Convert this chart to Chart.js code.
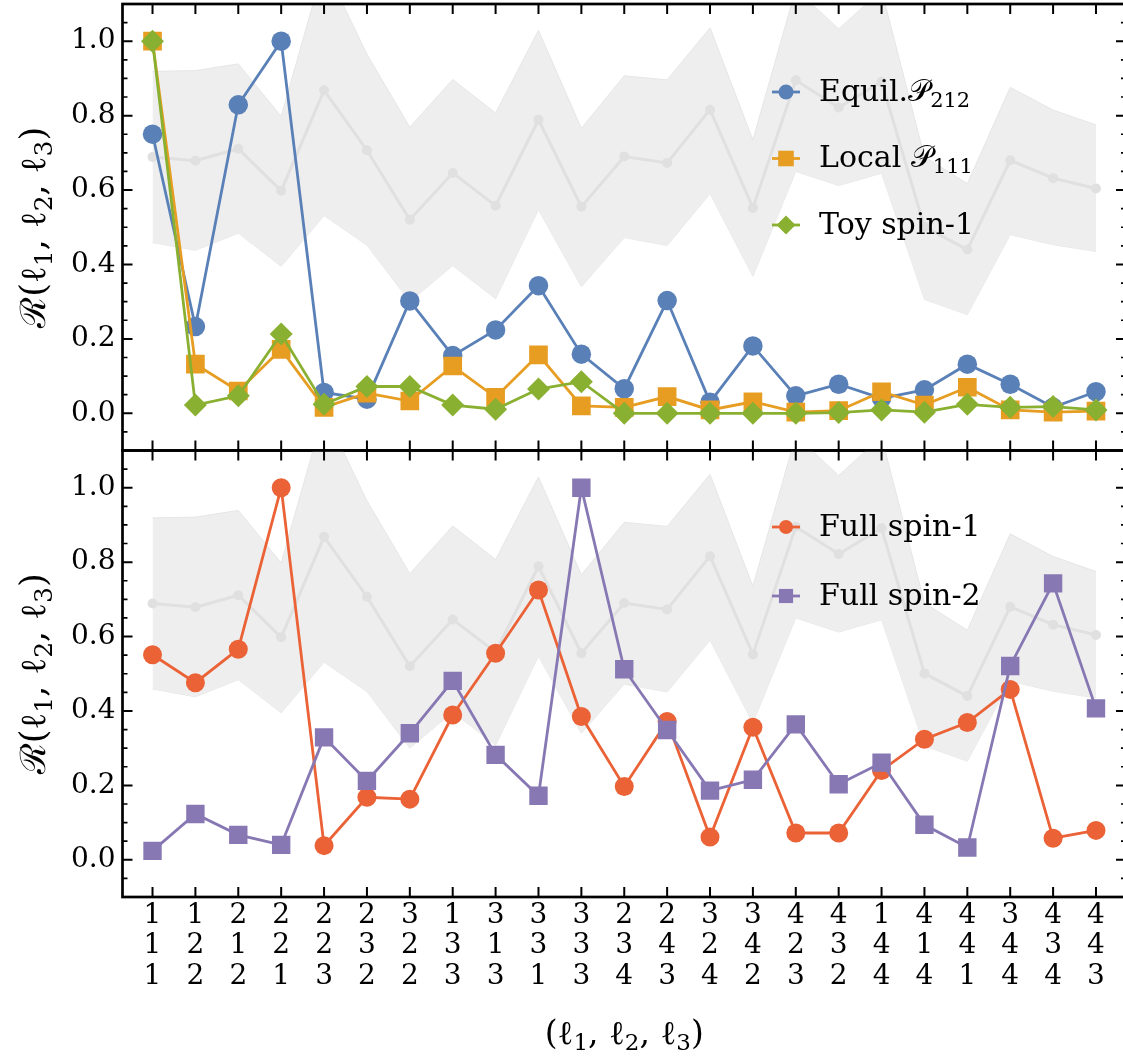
<!DOCTYPE html>
<html><head><meta charset="utf-8">
<script src="https://cdn.jsdelivr.net/npm/chart.js@4.4.0/dist/chart.umd.min.js"></script>
<style>
html,body{margin:0;padding:0;background:#fff;overflow:hidden;}
#wrap{position:relative;width:1123px;height:1059px;overflow:hidden;background:#fff;}
#topc{position:absolute;left:0;top:0;width:1128px;height:452px;}
#botc{position:absolute;left:0;top:446px;width:1128px;height:613px;}
</style></head><body>
<div id="wrap">
<canvas id="topc" width="1128" height="452"></canvas>
<canvas id="botc" width="1128" height="613"></canvas>
</div>
<script>
// ---- categories (l1, l2, l3) ----
const labelsL1 = ['1','1','2','2','2','2','3','1','3','3','3','2','2','3','3','4','4','1','4','4','3','4','4'];
const labelsL2 = ['1','2','1','2','2','3','2','3','1','3','3','3','4','2','4','2','3','4','1','4','4','3','4'];
const labelsL3 = ['1','2','2','1','3','2','2','3','3','1','3','4','3','4','2','3','2','4','4','1','4','4','3'];
const xTickValues = labelsL1.map((_, i) => i);
const yTickValues = [0.0, 0.2, 0.4, 0.6, 0.8, 1.0];
const yAxisTitle = 'ℛ(ℓ_{1}, ℓ_{2}, ℓ_{3})';
const xAxisTitle = '(ℓ_{1}, ℓ_{2}, ℓ_{3})';

// ---- grey reference band ----
const bandMean  = [0.689,0.679,0.711,0.598,0.868,0.707,0.520,0.646,0.558,0.789,0.555,0.690,0.673,0.816,0.552,0.895,0.822,0.891,0.501,0.440,0.680,0.632,0.604];
const bandUpper = [0.919,0.921,0.939,0.798,1.205,0.965,0.769,0.897,0.807,1.029,0.766,0.907,0.896,1.036,0.735,1.140,1.033,1.137,0.690,0.617,0.876,0.815,0.775];
const bandLower = [0.459,0.438,0.484,0.395,0.531,0.452,0.300,0.397,0.308,0.547,0.340,0.472,0.451,0.590,0.368,0.650,0.612,0.645,0.306,0.265,0.480,0.453,0.435];

// ---- top panel series ----
const equilP212 = [0.750,0.233,0.829,1.000,0.056,0.038,0.302,0.155,0.224,0.343,0.159,0.066,0.303,0.030,0.181,0.047,0.078,0.040,0.063,0.132,0.078,0.016,0.058];
const localP111 = [1.000,0.132,0.060,0.172,0.016,0.054,0.033,0.127,0.043,0.157,0.020,0.016,0.045,0.009,0.031,0.003,0.007,0.058,0.022,0.070,0.009,0.003,0.006];
const toySpin1  = [1.000,0.022,0.047,0.213,0.024,0.072,0.072,0.022,0.011,0.065,0.085,0.000,0.000,0.000,0.000,0.000,0.002,0.009,0.003,0.024,0.016,0.018,0.009];

// ---- bottom panel series ----
const fullSpin1 = [0.551,0.476,0.566,1.000,0.038,0.168,0.163,0.389,0.555,0.725,0.385,0.197,0.372,0.061,0.356,0.072,0.072,0.240,0.324,0.369,0.458,0.058,0.079];
const fullSpin2 = [0.024,0.123,0.067,0.040,0.329,0.212,0.340,0.481,0.282,0.172,1.000,0.512,0.349,0.186,0.215,0.364,0.203,0.261,0.094,0.033,0.521,0.743,0.407];

const SERIF = '"DejaVu Serif", "Liberation Serif", serif';
const pts = arr => arr.map((v, i) => ({x: i, y: v}));

function bandDatasets() {
  return [
    {label: '_mean', data: pts(bandMean), borderColor: '#e0e0e0', backgroundColor: '#e0e0e0',
     borderWidth: 3, pointRadius: 5, pointBorderWidth: 0, order: 8, legendSkip: true},
    {label: '_upper', data: pts(bandUpper), borderColor: '#e6e6e6', backgroundColor: '#eeeeee',
     borderWidth: 1, pointRadius: 0, fill: '+1', order: 9, legendSkip: true},
    {label: '_lower', data: pts(bandLower), borderColor: '#e6e6e6', borderWidth: 1,
     pointRadius: 0, fill: false, order: 10, legendSkip: true}
  ];
}

function series(label, arr, color, style, r, lr, order) {
  return {label, data: pts(arr), borderColor: color, backgroundColor: color, borderWidth: 2.8,
    pointStyle: style, pointRadius: r, pointHoverRadius: r, pointBorderWidth: 0,
    legendRadius: lr, order};
}

// rich text with "_{...}" subscripts
function richWidth(ctx, text, size) {
  const parts = text.split(/(_\{[^}]*\})/);
  let w = 0;
  parts.forEach(p => {
    if (!p) return;
    if (p.startsWith('_{')) { ctx.font = `${Math.round(size * 0.7)}px ${SERIF}`; w += ctx.measureText(p.slice(2, -1)).width; }
    else { ctx.font = `${size}px ${SERIF}`; w += ctx.measureText(p).width; }
  });
  return w;
}
function drawRich(ctx, text, x, y, size) {
  const parts = text.split(/(_\{[^}]*\})/);
  let cx = x;
  parts.forEach(p => {
    if (!p) return;
    if (p.startsWith('_{')) {
      const s = p.slice(2, -1);
      ctx.font = `${Math.round(size * 0.7)}px ${SERIF}`;
      ctx.fillText(s, cx, y + size * 0.28);
      cx += ctx.measureText(s).width;
    } else {
      ctx.font = `${size}px ${SERIF}`;
      ctx.fillText(p, cx, y);
      cx += ctx.measureText(p).width;
    }
  });
}

const MAJ = 10, MIN = 5;
const framePlugin = {
  id: 'frameTicks',
  afterDatasetsDraw(chart, args, opts) {
    const {ctx, chartArea: a, scales: {x, y}} = chart;
    ctx.save();
    ctx.strokeStyle = '#000';
    ctx.lineWidth = 2;
    ctx.beginPath();
    xTickValues.forEach(v => {
      const px = x.getPixelForValue(v);
      ctx.moveTo(px, a.top); ctx.lineTo(px, a.top + MAJ);
      ctx.moveTo(px, a.bottom); ctx.lineTo(px, a.bottom - MAJ);
    });
    yTickValues.forEach(v => {
      const py = y.getPixelForValue(v);
      ctx.moveTo(a.left, py); ctx.lineTo(a.left + MAJ, py);
      ctx.moveTo(a.right, py); ctx.lineTo(a.right - MAJ, py);
    });
    ctx.stroke();
    ctx.lineWidth = 1.7;
    ctx.beginPath();
    for (let k = -2; k <= 22; k++) {
      const v = k * 0.05;
      if (k % 4 === 0) continue;
      const py = y.getPixelForValue(v);
      if (py < a.top + 1 || py > a.bottom - 1) continue;
      ctx.moveTo(a.left, py); ctx.lineTo(a.left + MIN, py);
      ctx.moveTo(a.right, py); ctx.lineTo(a.right - MIN, py);
    }
    ctx.stroke();
    ctx.lineWidth = 2.7;
    ctx.strokeRect(a.left, a.top, a.width, a.height);

    // axis titles
    ctx.fillStyle = '#000';
    ctx.textBaseline = 'middle';
    ctx.textAlign = 'left';
    const tsy = 35;
    const wy = richWidth(ctx, yAxisTitle, tsy);
    ctx.save();
    ctx.translate(36, (a.top + a.bottom) / 2);
    ctx.rotate(-Math.PI / 2);
    drawRich(ctx, yAxisTitle, -wy / 2, 0, tsy);
    ctx.restore();
    if (opts.xTitleY) {
      const tsx = 33;
      const wx = richWidth(ctx, xAxisTitle, tsx);
      drawRich(ctx, xAxisTitle, (a.left + a.right) / 2 - wx / 2, opts.xTitleY, tsx);
    }
    ctx.restore();
  }
};

const legendPlugin = {
  id: 'lineLegend',
  afterDraw(chart, args, opts) {
    const {ctx} = chart;
    const items = chart.data.datasets.filter(d => !d.legendSkip)
      .sort((a, b) => a.legendIndex - b.legendIndex);
    ctx.save();
    items.forEach((d, i) => {
      const yy = opts.y0 + i * opts.dy;
      ctx.strokeStyle = d.borderColor;
      ctx.lineWidth = 2.8;
      ctx.beginPath();
      ctx.moveTo(opts.x, yy); ctx.lineTo(opts.x + 28, yy);
      ctx.stroke();
      ctx.fillStyle = d.backgroundColor;
      Chart.helpers.drawPoint(ctx, {pointStyle: d.pointStyle, radius: d.legendRadius, rotation: 0, borderWidth: 0}, opts.x + 14, yy);
      ctx.fillStyle = '#000';
      ctx.textBaseline = 'middle';
      ctx.textAlign = 'left';
      drawRich(ctx, d.richLabel, opts.x + 47, yy + 1, 30);
    });
    ctx.restore();
  }
};

function zeroPad(s) { s.paddingLeft = 0; s.paddingRight = 0; s.paddingTop = 0; s.paddingBottom = 0; }

function makeOptions(showX, legendPos, frameOpts) {
  return {
    responsive: false, animation: false, devicePixelRatio: 1,
    layout: {autoPadding: false,
      padding: showX ? {left: 0, right: 2, top: 4.5, bottom: 0} : {left: 0, right: 2, top: 4, bottom: 1.5}},
    plugins: {legend: {display: false}, tooltip: {enabled: false}, lineLegend: legendPos, frameTicks: frameOpts},
    scales: {
      x: {
        type: 'linear', min: -0.7, max: 22.7, display: showX,
        grid: {display: false, drawTicks: false}, border: {display: false},
        afterBuildTicks: s => { s.ticks = xTickValues.map(v => ({value: v})); },
        afterFit: s => { if (showX) s.height = 162; zeroPad(s); },
        ticks: {autoSkip: false, maxRotation: 0, minRotation: 0, padding: 3, color: '#000',
          font: {family: SERIF, size: 28, lineHeight: 1.09},
          callback: v => [labelsL1[v], labelsL2[v], labelsL3[v]]},
        title: {display: false}
      },
      y: {
        type: 'linear', min: -0.1, max: 1.1,
        grid: {display: false, drawTicks: false}, border: {display: false},
        afterBuildTicks: s => { s.ticks = yTickValues.map(v => ({value: v})); },
        afterFit: s => { s.width = 122.5; zeroPad(s); },
        ticks: {padding: 7, color: '#000', font: {family: SERIF, size: 28},
          callback: v => Number(v).toFixed(1)},
        title: {display: false}
      }
    }
  };
}

const topDatasets = [
  Object.assign(series('Equil. P212', equilP212, '#5a80b8', 'circle', 9.75, 7.5, 3), {richLabel: 'Equil.𝒫_{212}', legendIndex: 0}),
  Object.assign(series('Local P111', localP111, '#e69d22', 'rect', 13.2, 11, 2), {richLabel: 'Local 𝒫_{111}', legendIndex: 1}),
  Object.assign(series('Toy spin-1', toySpin1, '#8ab032', 'rectRot', 11.5, 9.5, 1), {richLabel: 'Toy spin-1', legendIndex: 2}),
  ...bandDatasets()
];
const botDatasets = [
  Object.assign(series('Full spin-1', fullSpin1, '#ea6236', 'circle', 9.5, 7, 2), {richLabel: 'Full spin-1', legendIndex: 0}),
  Object.assign(series('Full spin-2', fullSpin2, '#8778b3', 'rect', 13, 10, 1), {richLabel: 'Full spin-2', legendIndex: 1}),
  ...bandDatasets()
];

new Chart(document.getElementById('topc'), {
  type: 'line', data: {datasets: topDatasets},
  options: makeOptions(false, {x: 772, y0: 92, dy: 66.5}, {}),
  plugins: [framePlugin, legendPlugin]
});
new Chart(document.getElementById('botc'), {
  type: 'line', data: {datasets: botDatasets},
  options: makeOptions(true, {x: 772, y0: 527 - 446, dy: 69}, {xTitleY: 1035 - 446}),
  plugins: [framePlugin, legendPlugin]
});
</script>
</body></html>
